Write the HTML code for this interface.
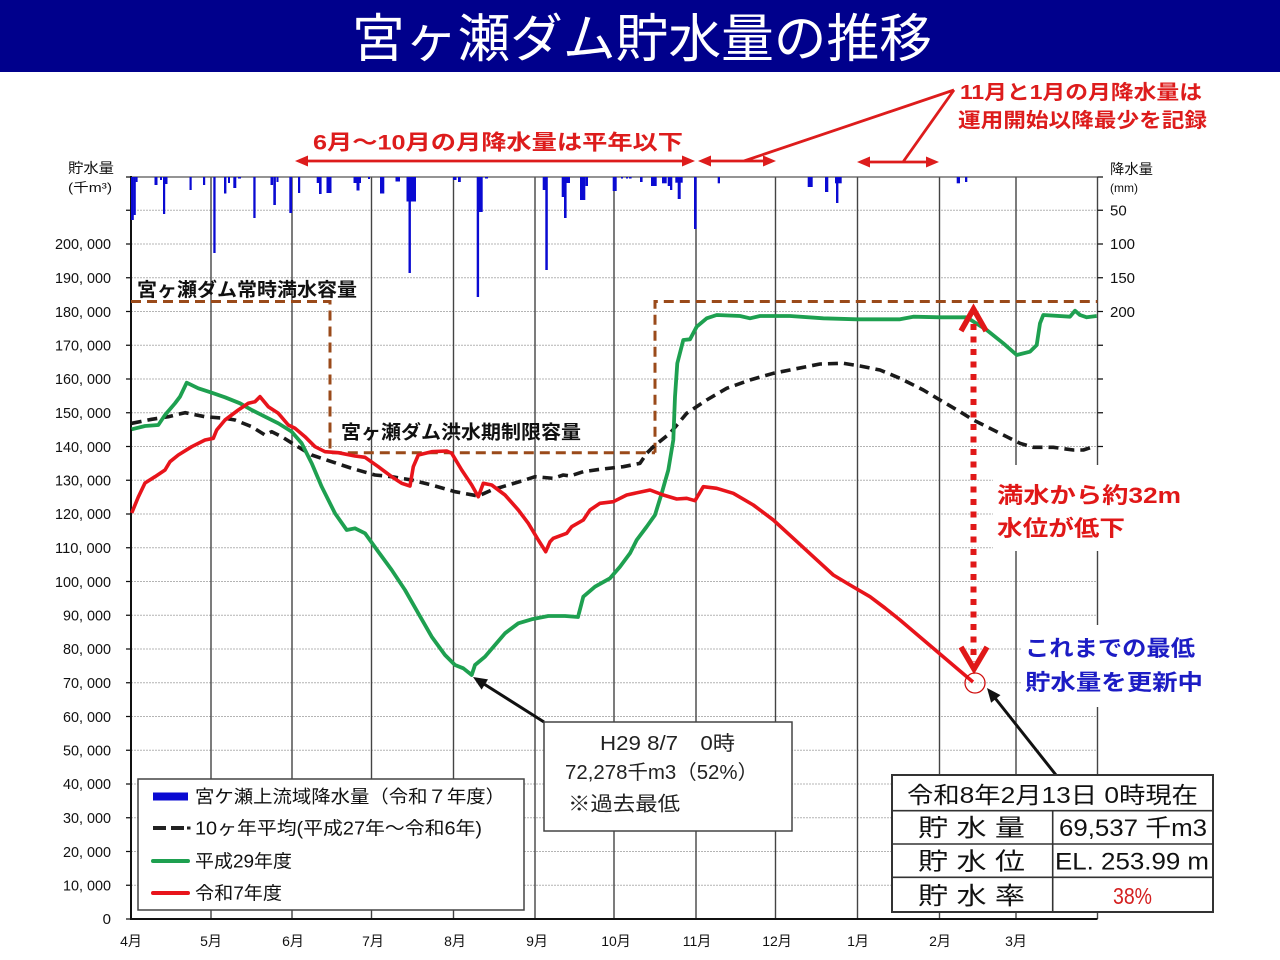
<!DOCTYPE html>
<html><head><meta charset="utf-8"><style>
html,body{margin:0;padding:0;width:1280px;height:960px;overflow:hidden;background:#fff}
svg{display:block}
</style></head><body>
<svg width="1280" height="960" viewBox="0 0 1280 960" xmlns="http://www.w3.org/2000/svg" font-family="'Liberation Sans','Noto Sans CJK JP',sans-serif">
<rect x="0" y="0" width="1280" height="960" fill="#fff"/>
<!-- title bar -->
<rect x="0" y="0" width="1280" height="72" fill="#00008c"/>
<text x="642" y="57" font-size="52" fill="#fff" text-anchor="middle" textLength="580" lengthAdjust="spacingAndGlyphs">宮ヶ瀬ダム貯水量の推移</text>

<!-- horizontal dotted gridlines -->
<g stroke="#b4b4b4" stroke-width="1" stroke-dasharray="2 1">
<path d="M131 885.25H1097.5M131 851.5H1097.5M131 817.75H1097.5M131 784H1097.5M131 750.25H1097.5M131 716.5H1097.5M131 682.75H1097.5M131 649H1097.5M131 615.25H1097.5M131 581.5H1097.5M131 547.75H1097.5M131 514H1097.5M131 480.25H1097.5M131 446.5H1097.5M131 412.75H1097.5M131 379H1097.5M131 345.25H1097.5M131 311.5H1097.5M131 277.75H1097.5M131 244H1097.5M131 210.25H1097.5"/>
</g>
<!-- vertical month lines -->
<g stroke="#444" stroke-width="1.4">
<path d="M211 177V919M292 177V919M371.5 177V919M453.5 177V919M535 177V919M614 177V919M696 177V919M775.5 177V919M857.5 177V919M939.5 177V919M1016 177V919M1097.5 177V919"/>
</g>
<!-- top border -->
<path d="M131 177H1097.5" stroke="#555" stroke-width="1.2"/>
<!-- axes -->
<path d="M131 176V919H1097.5" stroke="#111" stroke-width="2" fill="none"/>
<!-- left ticks -->
<g stroke="#111" stroke-width="1.2">
<path d="M126 919H131M126 885.25H131M126 851.5H131M126 817.75H131M126 784H131M126 750.25H131M126 716.5H131M126 682.75H131M126 649H131M126 615.25H131M126 581.5H131M126 547.75H131M126 514H131M126 480.25H131M126 446.5H131M126 412.75H131M126 379H131M126 345.25H131M126 311.5H131M126 277.75H131M126 244H131M126 210.25H131M126 177H131"/>
<path d="M1097.5 446.5H1103M1097.5 412.75H1103M1097.5 379H1103M1097.5 345.25H1103M1097.5 311.5H1103M1097.5 277.75H1103M1097.5 244H1103M1097.5 210.25H1103M1097.5 177H1103"/>
</g>

<!-- rain bars -->
<g fill="#0a0ad2">
<rect x="131" y="177" width="2.8" height="43"/>
<rect x="133.6" y="177" width="2.2" height="38"/>
<rect x="135.6" y="177" width="2" height="5"/>
<rect x="154.5" y="177" width="3" height="8"/>
<rect x="160" y="177" width="2" height="3"/>
<rect x="163" y="177" width="2.2" height="37"/>
<rect x="165" y="177" width="2.5" height="7"/>
<rect x="189.5" y="177" width="2.2" height="13"/>
<rect x="203" y="177" width="2.2" height="8"/>
<rect x="213.3" y="177" width="2.3" height="76"/>
<rect x="224" y="177" width="2.4" height="16.5"/>
<rect x="228" y="177" width="2" height="6"/>
<rect x="233.3" y="177" width="3" height="11"/>
<rect x="238" y="177" width="3" height="1.5"/>
<rect x="253.3" y="177" width="2.3" height="41"/>
<rect x="270.5" y="177" width="2.6" height="8"/>
<rect x="273.3" y="177" width="2.6" height="28"/>
<rect x="276.5" y="177" width="2" height="5"/>
<rect x="289.3" y="177" width="2.8" height="36"/>
<rect x="298" y="177" width="2.2" height="16"/>
<rect x="316.7" y="177" width="2.5" height="6"/>
<rect x="319" y="177" width="2.6" height="17"/>
<rect x="326.5" y="177" width="5" height="16"/>
<rect x="353.5" y="177" width="3.5" height="6"/>
<rect x="356.5" y="177" width="3" height="13.5"/>
<rect x="359" y="177" width="2" height="6"/>
<rect x="368" y="177" width="2" height="2"/>
<rect x="380" y="177" width="4.3" height="16.5"/>
<rect x="395.5" y="177" width="4.5" height="4.5"/>
<rect x="406.5" y="177" width="9.5" height="24.5"/>
<rect x="408.5" y="177" width="2.4" height="96"/>
<rect x="453" y="177" width="3.5" height="3"/>
<rect x="458" y="177" width="2.8" height="5"/>
<rect x="476.7" y="177" width="2.4" height="120"/>
<rect x="479" y="177" width="3.7" height="35"/>
<rect x="485" y="177" width="3" height="1.5"/>
<rect x="542.7" y="177" width="3.3" height="13"/>
<rect x="545.3" y="177" width="2.5" height="93"/>
<rect x="561.7" y="177" width="4.3" height="20"/>
<rect x="564" y="177" width="2.6" height="41"/>
<rect x="566.5" y="177" width="3.5" height="6"/>
<rect x="580" y="177" width="5.3" height="23"/>
<rect x="585.3" y="177" width="2.7" height="9"/>
<rect x="612.7" y="177" width="4" height="14"/>
<rect x="621" y="177" width="2" height="1.5"/>
<rect x="626" y="177" width="2" height="1.5"/>
<rect x="629" y="177" width="2.6" height="1.5"/>
<rect x="640" y="177" width="2.6" height="5"/>
<rect x="651" y="177" width="5.7" height="9"/>
<rect x="662" y="177" width="4.7" height="6.3"/>
<rect x="667.7" y="177" width="2.3" height="9"/>
<rect x="670" y="177" width="2.3" height="13"/>
<rect x="675.3" y="177" width="7.4" height="5.7"/>
<rect x="677.7" y="177" width="3" height="22"/>
<rect x="694" y="177" width="2.6" height="52"/>
<rect x="717.7" y="177" width="2.3" height="6.3"/>
<rect x="807.7" y="177" width="5" height="10"/>
<rect x="825" y="177" width="3.3" height="15"/>
<rect x="835" y="177" width="6.7" height="6.3"/>
<rect x="836" y="177" width="2.4" height="26"/>
<rect x="956.7" y="177" width="3.3" height="6.3"/>
<rect x="965" y="177" width="2.3" height="5"/>
</g>

<!-- brown capacity lines -->
<g stroke="#9a4a1a" stroke-width="3" fill="none" stroke-dasharray="10 6">
<path d="M131 301.5H330V452.7H655"/>
<path d="M655 452.7V301.5H1097.5"/>
</g>
<text x="137" y="296" font-size="19" font-weight="bold" fill="#111" textLength="220" lengthAdjust="spacingAndGlyphs">宮ヶ瀬ダム常時満水容量</text>
<text x="341" y="438.5" font-size="19" font-weight="bold" fill="#111" textLength="240" lengthAdjust="spacingAndGlyphs">宮ヶ瀬ダム洪水期制限容量</text>

<!-- 10-year average (black dashed) -->
<polyline fill="none" stroke="#1a1a1a" stroke-width="3.6" stroke-dasharray="10 6" stroke-linejoin="round" points="131.7,423.3 151.7,419.3 168.3,416.7 185,412.7 205,416.7 225,418.3 235,420 251.7,426.7 265,435 271.7,431.7 281.7,436.7 295,445 311.7,455 331.7,461.7 351.7,468.3 375,475 391.7,476.7 411.7,480 431.7,485 455,491.7 478.3,496 491.7,490 508.3,485 525,480 535,476.7 553.3,478.3 563.3,475 570,476 583.3,471.7 600,469.3 623.3,466.7 640,463.3 646.7,453.3 653.3,446.7 670,433.3 686.7,413.3 706.7,400 726.7,388.3 750,380 773.3,373.3 793.3,369.3 820,364 843.3,363.3 860,366 880,370 900,378.3 923.3,390 940,400 960,411.7 973.3,420 990,428.3 1006.7,436.7 1020,443.3 1033.3,447.3 1053.3,447.3 1073.3,450 1083.3,450 1093.3,446.7"/>

<!-- H29 green -->
<polyline fill="none" stroke="#1ea050" stroke-width="3.8" stroke-linejoin="round" points="131.7,429.3 145,426 158.3,425 165,415 175,403.3 180,396.7 186.7,382.7 198.3,388.3 211.7,392.7 225,397.3 240,403.3 251.7,410 265,416.7 278.3,423.3 291.7,431.7 301.7,443.3 311.7,463.3 321.7,486.7 335,513.3 346.7,530 355,528.3 365,533.3 378.3,551.7 391.7,570 405,590 418.3,613.3 431.7,636.7 445,655 455,665 463.3,668.3 471.7,675 475,665 485,656.7 495,645 505,633.3 518.3,623.3 531.7,619.3 548.3,616 565,616 578,617 583.3,596.7 595,586.7 610,578.3 620,566.7 630,553.3 636.7,540 646.7,526.7 655,515 661.7,493.3 668.3,470 673.3,440 675,396.7 677.3,363.3 683.3,340 690,339.3 696.7,326.7 706.7,318.3 716.7,315 740,316 750,318.3 760,316 790,316 823.3,318.3 856.7,319.3 900,319.3 913.3,316.7 940,317.3 966.7,317.3 986.7,330 1003.3,343.3 1016.7,355 1030,351.7 1036.7,345 1040,323.3 1043.3,315 1070,316.7 1075,310.7 1080,315 1086.7,317.3 1096.7,316"/>

<!-- R7 red -->
<polyline fill="none" stroke="#e8141b" stroke-width="3.6" stroke-linejoin="round" points="131.7,513 138.3,497 145,483 155,476.7 165,470 170,461.7 178.3,455 191.7,446.7 205,440 213.3,438.3 216.7,430 225,420 238.3,410 248.3,403.3 255,401.7 260,396.7 268.3,406.7 278.3,413.3 288.3,425 295,428.3 305,436.7 315,446.7 325,451.7 338.3,452.7 355,456 365,457.3 378.3,466.7 391.7,476.7 401.7,483.3 410,486 413.3,466.7 418.3,455 431.7,451.7 446.7,451 451.7,453.3 461.7,470 471.7,485 478.3,496.7 483.3,483.3 491.7,485 505,495 518.3,510 528.3,523.3 538.3,540 545.7,551.7 550,541.7 553.3,538.3 566.7,533.3 571.7,526.7 583.3,520 590,510 600,503.3 613.3,501.7 626.7,495 650,490 663.3,495 676.7,499 686.7,498.3 695,500.7 703.3,486.7 716.7,488.3 733.3,493.3 753.3,505 773.3,520 793.3,538.3 813.3,556.7 833.3,575 850,585 870,596.7 885,608 900,620 920,637 940,654 960,671 973,682"/>

<!-- red dotted double arrow -->
<path d="M973.5 324V662" stroke="#e01818" stroke-width="6" stroke-dasharray="6 6.5" fill="none"/>
<polyline points="961,331 973.5,309 986,331" fill="none" stroke="#e01818" stroke-width="5.5" stroke-linejoin="miter"/>
<polyline points="961,647 974,669 987,647" fill="none" stroke="#e01818" stroke-width="5.5" stroke-linejoin="miter"/>
<circle cx="975" cy="683" r="10" fill="none" stroke="#d01010" stroke-width="1.3"/>

<!-- top red annotations -->
<text x="313" y="149.5" font-size="21" font-weight="bold" fill="#dd1c1c" textLength="370" lengthAdjust="spacingAndGlyphs">6月～10月の月降水量は平年以下</text>
<g stroke="#dd1c1c" stroke-width="2.8" fill="none">
<path d="M305 161H685M706 161H768M866 162H930M744 161L954 90M903 162L954 90"/>
</g>
<g fill="#dd1c1c">
<polygon points="295,161 308,155.5 308,166.5"/>
<polygon points="695,161 682,155.5 682,166.5"/>
<polygon points="698,161 711,155.5 711,166.5"/>
<polygon points="776,161 763,155.5 763,166.5"/>
<polygon points="857,162 870,156.5 870,167.5"/>
<polygon points="939,162 926,156.5 926,167.5"/>
</g>
<text x="960" y="99" font-size="20" font-weight="bold" fill="#dd1c1c" textLength="242" lengthAdjust="spacingAndGlyphs">11月と1月の月降水量は</text>
<text x="958" y="127" font-size="20" font-weight="bold" fill="#dd1c1c" textLength="249" lengthAdjust="spacingAndGlyphs">運用開始以降最少を記録</text>

<!-- axis titles -->
<text x="68" y="173" font-size="14" fill="#111" textLength="46" lengthAdjust="spacingAndGlyphs">貯水量</text>
<text x="68" y="192" font-size="13" fill="#111" textLength="44" lengthAdjust="spacingAndGlyphs">(千m³)</text>
<text x="1110" y="174" font-size="14" fill="#111" textLength="43" lengthAdjust="spacingAndGlyphs">降水量</text>
<text x="1110" y="192" font-size="12" fill="#111">(mm)</text>
<g font-size="15" fill="#111">
<text x="1110" y="215.5">50</text>
<text x="1110" y="249">100</text>
<text x="1110" y="283">150</text>
<text x="1110" y="317">200</text>
</g>

<!-- left tick labels -->
<g font-size="15" fill="#111" text-anchor="end">
<text x="111" y="249" textLength="56" lengthAdjust="spacingAndGlyphs">200, 000</text>
<text x="111" y="283" textLength="56" lengthAdjust="spacingAndGlyphs">190, 000</text>
<text x="111" y="317" textLength="56" lengthAdjust="spacingAndGlyphs">180, 000</text>
<text x="111" y="350.5" textLength="56" lengthAdjust="spacingAndGlyphs">170, 000</text>
<text x="111" y="384" textLength="56" lengthAdjust="spacingAndGlyphs">160, 000</text>
<text x="111" y="418" textLength="56" lengthAdjust="spacingAndGlyphs">150, 000</text>
<text x="111" y="452" textLength="56" lengthAdjust="spacingAndGlyphs">140, 000</text>
<text x="111" y="485.5" textLength="56" lengthAdjust="spacingAndGlyphs">130, 000</text>
<text x="111" y="519" textLength="56" lengthAdjust="spacingAndGlyphs">120, 000</text>
<text x="111" y="553" textLength="56" lengthAdjust="spacingAndGlyphs">110, 000</text>
<text x="111" y="587" textLength="56" lengthAdjust="spacingAndGlyphs">100, 000</text>
<text x="111" y="620.5" textLength="48" lengthAdjust="spacingAndGlyphs">90, 000</text>
<text x="111" y="654" textLength="48" lengthAdjust="spacingAndGlyphs">80, 000</text>
<text x="111" y="688" textLength="48" lengthAdjust="spacingAndGlyphs">70, 000</text>
<text x="111" y="722" textLength="48" lengthAdjust="spacingAndGlyphs">60, 000</text>
<text x="111" y="755.5" textLength="48" lengthAdjust="spacingAndGlyphs">50, 000</text>
<text x="111" y="789" textLength="48" lengthAdjust="spacingAndGlyphs">40, 000</text>
<text x="111" y="823" textLength="48" lengthAdjust="spacingAndGlyphs">30, 000</text>
<text x="111" y="857" textLength="48" lengthAdjust="spacingAndGlyphs">20, 000</text>
<text x="111" y="890.5" textLength="48" lengthAdjust="spacingAndGlyphs">10, 000</text>
<text x="111" y="924">0</text>
</g>

<!-- month labels -->
<g font-size="14" fill="#111" text-anchor="middle">
<text x="131" y="946">4月</text>
<text x="211" y="946">5月</text>
<text x="293" y="946">6月</text>
<text x="373" y="946">7月</text>
<text x="455" y="946">8月</text>
<text x="537" y="946">9月</text>
<text x="616" y="946">10月</text>
<text x="697" y="946">11月</text>
<text x="777" y="946">12月</text>
<text x="858" y="946">1月</text>
<text x="940" y="946">2月</text>
<text x="1016" y="946">3月</text>
</g>

<!-- red annotation right -->
<rect x="993" y="465" width="200" height="86" fill="#fff"/>
<text x="997" y="503" font-size="22" font-weight="bold" fill="#e01818" textLength="184" lengthAdjust="spacingAndGlyphs">満水から約32m</text>
<text x="997" y="536" font-size="22" font-weight="bold" fill="#e01818" textLength="128" lengthAdjust="spacingAndGlyphs">水位が低下</text>

<!-- blue annotation -->
<rect x="1021" y="625" width="194" height="82" fill="#fff"/>
<text x="1025" y="656" font-size="22" font-weight="bold" fill="#1c1cc4" textLength="170" lengthAdjust="spacingAndGlyphs">これまでの最低</text>
<text x="1025" y="690" font-size="22" font-weight="bold" fill="#1c1cc4" textLength="178" lengthAdjust="spacingAndGlyphs">貯水量を更新中</text>

<!-- black arrows -->
<path d="M544 722L484 684" stroke="#111" stroke-width="3"/>
<polygon points="473,677 481.6,689.6 488,679.4" fill="#111"/>
<path d="M1056 775L995 698" stroke="#111" stroke-width="3"/>
<polygon points="987,688 991.1,702.7 1000.5,695.1" fill="#111"/>

<!-- H29 box -->
<rect x="544" y="722" width="248" height="109" fill="#fff" stroke="#444" stroke-width="1.5"/>
<g font-size="20" fill="#222">
<text x="600" y="750" textLength="135" lengthAdjust="spacingAndGlyphs">H29 8/7　0時</text>
<text x="565" y="779" textLength="193" lengthAdjust="spacingAndGlyphs">72,278千m3（52%）</text>
<text x="568" y="810.5" textLength="112" lengthAdjust="spacingAndGlyphs">※過去最低</text>
</g>

<!-- legend -->
<rect x="138" y="779" width="386" height="131" fill="#fff" stroke="#444" stroke-width="1.5"/>
<rect x="153" y="792.5" width="35" height="8" fill="#0a0ad2"/>
<path d="M153 828H166M171 828H184" stroke="#222" stroke-width="4"/>
<rect x="187" y="826.5" width="3.5" height="3" fill="#222"/>
<path d="M153 861H188" stroke="#1ea050" stroke-width="4" stroke-linecap="round"/>
<path d="M153 893H188" stroke="#e8141b" stroke-width="4" stroke-linecap="round"/>
<g font-size="18" fill="#111">
<text x="195" y="803" textLength="310" lengthAdjust="spacingAndGlyphs">宮ケ瀬上流域降水量（令和７年度）</text>
<text x="195" y="834.5" textLength="287" lengthAdjust="spacingAndGlyphs">10ヶ年平均(平成27年～令和6年)</text>
<text x="195" y="867.5" textLength="97" lengthAdjust="spacingAndGlyphs">平成29年度</text>
<text x="195" y="899.5" textLength="87" lengthAdjust="spacingAndGlyphs">令和7年度</text>
</g>

<!-- info table -->
<rect x="892" y="775" width="321" height="137" fill="#fff" stroke="#333" stroke-width="2"/>
<path d="M892 810.7H1213M892 844H1213M892 877.3H1213M1052.7 810.7V912" stroke="#333" stroke-width="1.6"/>
<text x="907" y="803" font-size="23" fill="#111" textLength="291" lengthAdjust="spacingAndGlyphs">令和8年2月13日 0時現在</text>
<g font-size="24" fill="#111">
<text x="918" y="836" textLength="107" lengthAdjust="spacingAndGlyphs">貯 水 量</text>
<text x="918" y="869.5" textLength="107" lengthAdjust="spacingAndGlyphs">貯 水 位</text>
<text x="918" y="904" textLength="107" lengthAdjust="spacingAndGlyphs">貯 水 率</text>
<text x="1059" y="836" textLength="148" lengthAdjust="spacingAndGlyphs">69,537 千m3</text>
<text x="1055" y="869.5" textLength="154" lengthAdjust="spacingAndGlyphs">EL. 253.99 m</text>
</g>
<text x="1113" y="904" font-size="23" fill="#d42020" textLength="39" lengthAdjust="spacingAndGlyphs">38%</text>
</svg>
</body></html>
